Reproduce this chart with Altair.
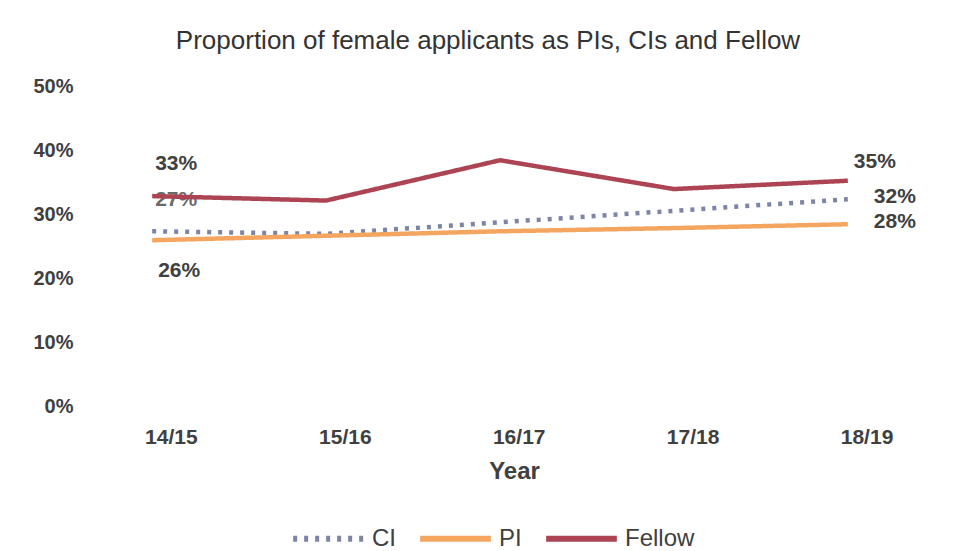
import altair as alt
import pandas as pd

years = ["14/15", "15/16", "16/17", "17/18", "18/19"]
series_names = ["CI", "PI", "Fellow"]
ci = [27.3, 26.9, 28.7, 30.5, 32.3]
pi = [25.9, 26.6, 27.3, 27.8, 28.4]
fellow = [32.8, 32.1, 38.4, 33.9, 35.2]
colors = ["#7d84a6", "#f4a661", "#ad4454"]

rows = []
for name, vals in zip(series_names, [ci, pi, fellow]):
    for y, v in zip(years, vals):
        rows.append({"Series": name, "Year": y, "Value": v / 100})
df = pd.DataFrame(rows)

x_scale = alt.Scale(type="point", padding=0.3)
x_enc = alt.X("Year:N", sort=years, scale=x_scale,
              axis=alt.Axis(title="Year", labelAngle=0, domain=False, ticks=False,
                            labelFont="Liberation Sans", labelFontSize=21, labelFontWeight="bold",
                            labelColor="#404040", labelPadding=31, labelOffset=45,
                            titleFont="Liberation Sans", titleFontSize=24, titleFontWeight="bold",
                            titleColor="#404040", titlePadding=12, titleX=414))
y_enc = alt.Y("Value:Q", scale=alt.Scale(domain=[0, 0.5]),
              axis=alt.Axis(title=None, format=".0%", values=[0, 0.1, 0.2, 0.3, 0.4, 0.5],
                            domain=False, ticks=False, grid=False,
                            labelFont="Liberation Sans", labelFontSize=20, labelFontWeight="bold",
                            labelColor="#404040", labelPadding=27))

lines = alt.Chart(df).mark_line(strokeWidth=4.5).encode(
    x=x_enc,
    y=y_enc,
    color=alt.Color("Series:N", scale=alt.Scale(domain=series_names, range=colors),
                    sort=series_names,
                    legend=alt.Legend(title=None, orient="none", direction="horizontal",
                                      legendX=190, legendY=414, symbolType="stroke",
                                      symbolSize=5000, symbolStrokeWidth=6,
                                      labelFont="Liberation Sans", labelFontSize=24,
                                      labelColor="#404040", columnPadding=12,
                                      labelOffset=5)),
    strokeDash=alt.StrokeDash("Series:N", scale=alt.Scale(domain=series_names,
                                                          range=[[4, 7], [1, 0], [1, 0]]),
                              sort=series_names, legend=alt.Legend(title=None)),
)

label_specs = [
    ("Fellow", 0, fellow, -32, 24, "#404040"),
    ("CI", 0, ci, -31, 24, "#6a6a6a"),
    ("PI", 0, pi, 31, 27, "#404040"),
    ("Fellow", 4, fellow, -19, 27, "#404040"),
    ("CI", 4, ci, -2, 47, "#404040"),
    ("PI", 4, pi, -2, 47, "#404040"),
]
label_layers = []
for name, idx, vals, dy, dx, col in label_specs:
    ldf = pd.DataFrame({"Year": [years[idx]], "Value": [vals[idx] / 100],
                        "Label": [f"{round(vals[idx])}%"]})
    label_layers.append(
        alt.Chart(ldf).mark_text(font="Liberation Sans", fontSize=21, fontWeight="bold",
                                 color=col, dx=dx, dy=dy).encode(
            x=alt.X("Year:N", sort=years, scale=x_scale), y="Value:Q", text="Label:N")
    )

chart = alt.layer(*label_layers, lines).properties(
    width=800, height=320,
    title=alt.TitleParams("Proportion of female applicants as PIs, CIs and Fellow",
                          font="Liberation Sans", fontSize=26, fontWeight="normal",
                          color="#333333", anchor="middle", offset=22, dx=-12),
    autosize=alt.AutoSizeParams(type="none"),
    padding={"left": 92, "top": 78, "right": 45, "bottom": 145},
).configure(background="white", view={"stroke": None})

chart.save("out.html", embed_options={"renderer": "svg", "actions": False})
